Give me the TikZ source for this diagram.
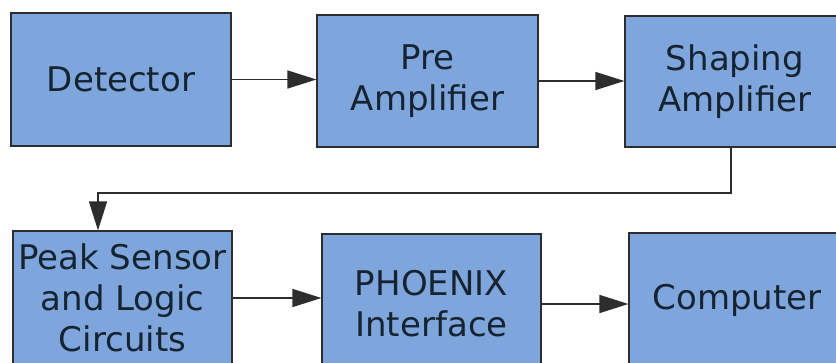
\documentclass[tikz,border=0pt]{standalone}
\usepackage{fontspec}
\setmainfont{DejaVu Sans}
\usetikzlibrary{arrows.meta,calc}
\definecolor{boxfill}{RGB}{127,166,220}
\definecolor{boxtext}{RGB}{22,36,50}
\definecolor{edge}{RGB}{45,45,45}
\tikzset{
  blk/.style={draw=edge, line width=1.2pt, fill=boxfill, text=boxtext,
    align=center, inner sep=0pt, font=\fontsize{34}{41}\selectfont},
  conn/.style={draw=edge, line width=1.5pt, -{Triangle[length=29pt,width=18pt]}}
}
\begin{document}
\begin{tikzpicture}[x=1pt,y=-1pt]
\useasboundingbox (0,0) rectangle (836,362);
\clip (0,0) rectangle (836,362);
\node[blk, minimum width=220pt, minimum height=133pt] (det) at (121,79.5) {Detector};
\node[blk, minimum width=221pt, minimum height=132pt] (pre) at (427.5,81) {Pre\\Amplifier};
\node[blk, minimum width=220pt, minimum height=131pt] (shp) at (735,81.5) {Shaping\\Amplifier};
\node[blk, minimum width=219pt, minimum height=134pt] (peak) at (122.5,298) {Peak Sensor\\and Logic\\Circuits};
\node[blk, minimum width=219pt, minimum height=140pt] (phx) at (431.5,304) {PHOENIX\\Interface};
\node[blk, minimum width=216pt, minimum height=134pt] (cmp) at (737,300) {Computer};
\coordinate (bendA) at (731,193);
\coordinate (bendB) at (98,193);
\draw[conn] (det.east) -- (det.east -| pre.west);
\draw[conn] (pre.east) -- (pre.east -| shp.west);
\draw[conn] (bendA |- shp.south) -- (bendA) -- (bendB) -- (bendB |- peak.north);
\draw[conn] (peak.east) -- (peak.east -| phx.west);
\draw[conn] (phx.east) -- (phx.east -| cmp.west);
\end{tikzpicture}
\end{document}
